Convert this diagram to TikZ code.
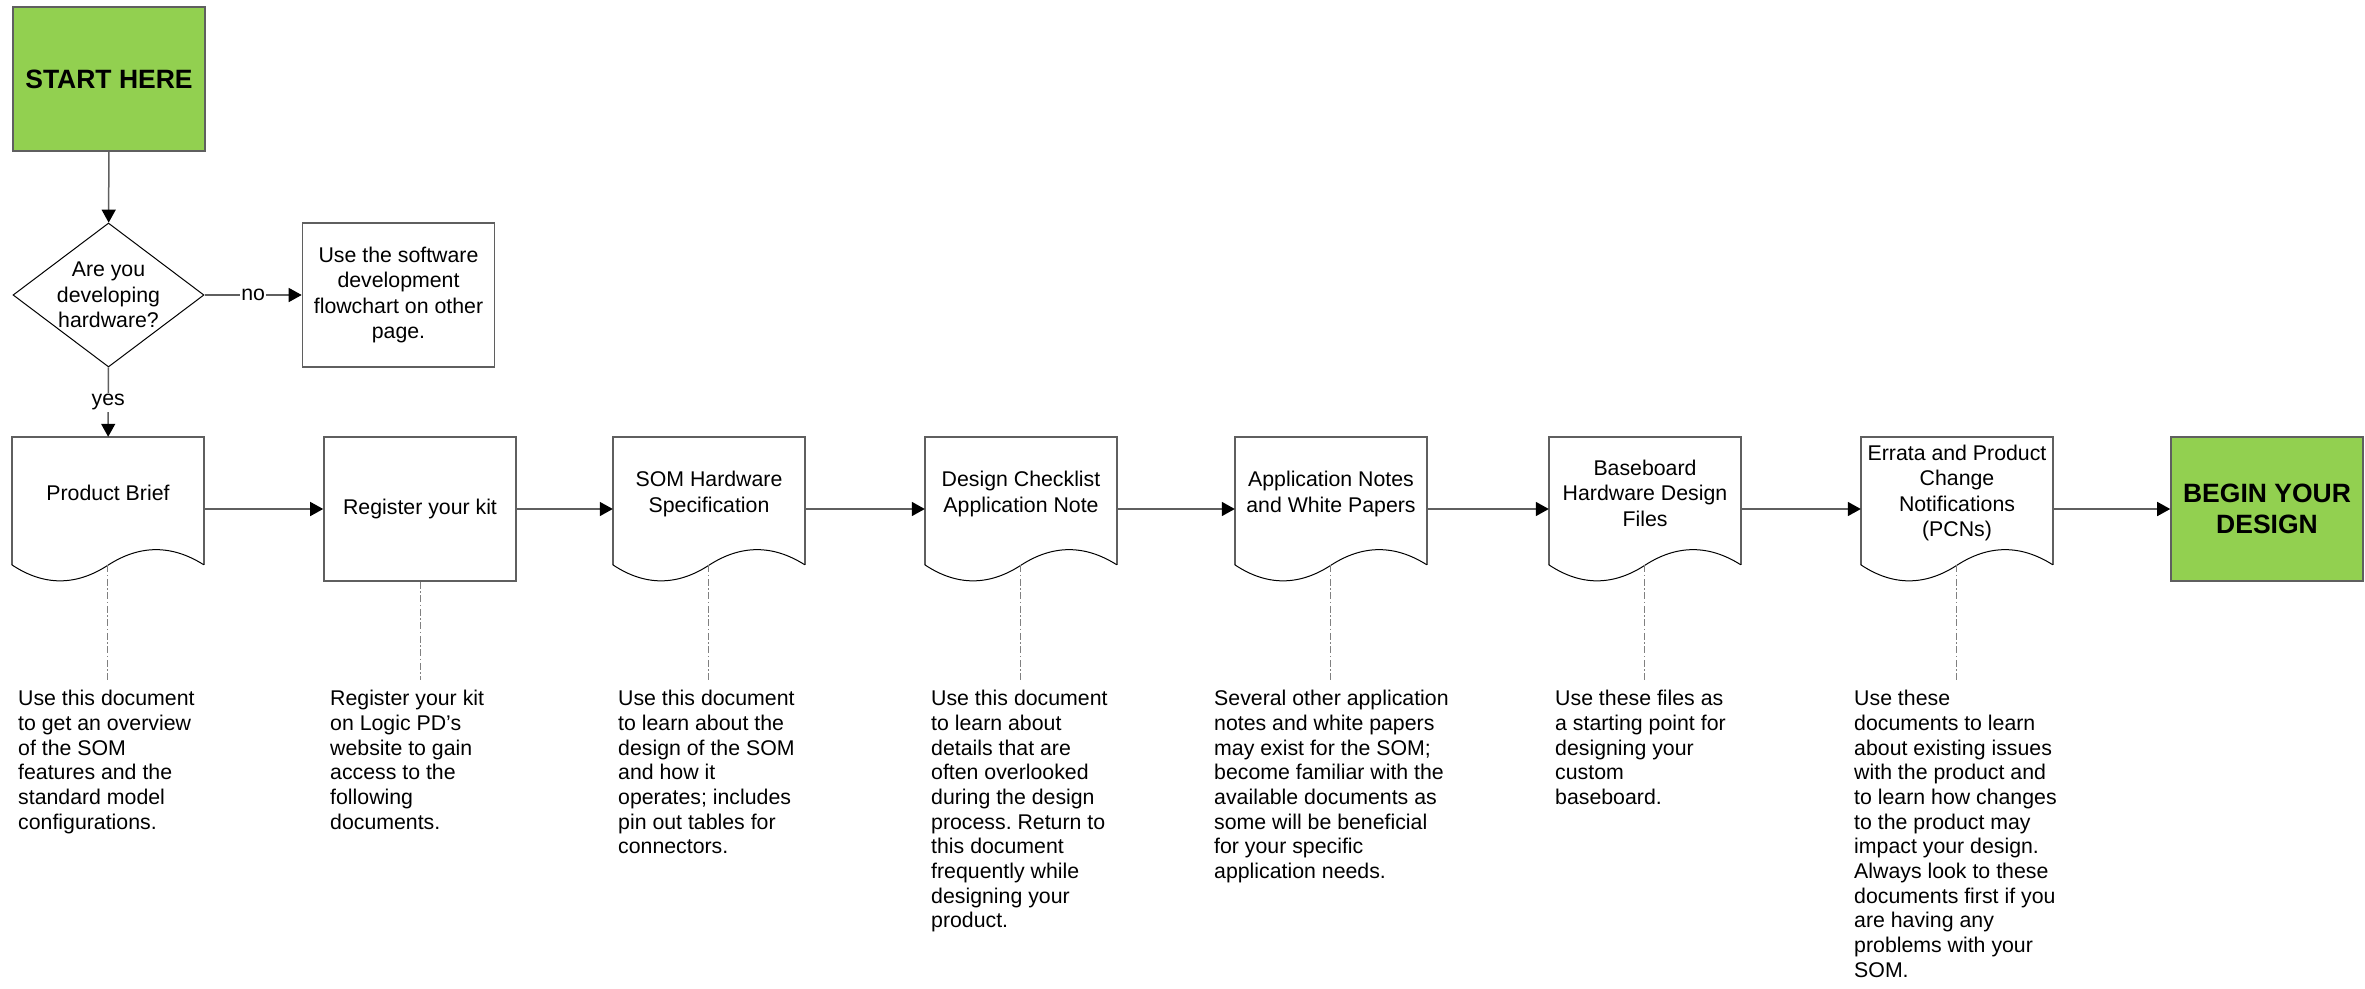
\documentclass[tikz,border=0pt]{standalone}
\usepackage{fontspec}
\setmainfont{Liberation Sans}
\usetikzlibrary{shapes.geometric,arrows.meta,calc}
\definecolor{startgreen}{RGB}{146,208,80}
\definecolor{edgegray}{RGB}{95,95,95}
\newcommand\docoutline[1]{%
  \draw[edgegray,line width=1.6pt] ($(#1.north west)+(0,-128)$) -- (#1.north west) -- (#1.north east) -- ($(#1.north east)+(0,-128)$);
  \draw[black,line width=1pt] ($(#1.north west)+(0,-128)$)
     .. controls ($(#1.north west)+(32,-149.3)$) and ($(#1.north west)+(64,-149.3)$) .. ($(#1.north west)+(96,-128.5)$) coordinate (#1w)
     .. controls ($(#1.north west)+(128,-107.7)$) and ($(#1.north west)+(160,-107.7)$) .. ($(#1.north west)+(192,-128)$);
}
\begin{document}
\frenchspacing
\begin{tikzpicture}[x=1pt,y=1pt,
  every node/.style={font=\fontsize{21.3}{24.7}\selectfont, inner sep=0pt},
  boxtext/.style={align=center, font=\fontsize{21.3}{25.4}\selectfont},
  box/.style={draw=edgegray, line width=1.6pt, minimum width=192pt, minimum height=144pt, boxtext},
  greenbox/.style={box, fill=startgreen, font=\bfseries\fontsize{26.5}{31}\selectfont},
  docarea/.style={minimum width=192pt, minimum height=144pt},
  flow/.style={draw=edgegray, line width=1.5pt, -{Triangle[length=13pt,width=14pt,color=black]}},
  note/.style={align=left, anchor=north west},
  dotline/.style={draw=gray, line width=1pt, dash pattern=on 7pt off 2.5pt on 1.5pt off 2.5pt, shorten >=10pt},
  lbl/.style={fill=white, inner sep=1.5pt}
]
\useasboundingbox (0,0) rectangle (2365,-988);

% top part
\node[greenbox] (start) at (109,-79) {START HERE};
\node[draw=black, line width=1pt, shape=diamond, minimum width=191pt, minimum height=144pt, aspect=1.33] (q) at (108.5,-295) {};
\node[boxtext] (qt) at (q) {Are you\\developing\\hardware?};
\node[box] (sw) at (398.5,-295) {Use the software\\development\\flowchart on other\\page.};

% main row
\node[docarea] (pb) at (108,-509) {};
\node[box] (reg) at (420,-509) {Register your kit};
\node[docarea] (som) at (709,-509) {};
\node[docarea] (dc) at (1021,-509) {};
\node[docarea] (an) at (1331,-509) {};
\node[docarea] (bb) at (1645,-509) {};
\node[docarea] (er) at (1957,-509) {};
\node[greenbox] (begin) at (2267,-509) {BEGIN YOUR\\DESIGN};

\docoutline{pb}
\docoutline{som}
\docoutline{dc}
\docoutline{an}
\docoutline{bb}
\docoutline{er}

\node[boxtext] (pbt) at (108,-493) {Product Brief};
\node[boxtext] (somt) at (709,-494) {SOM Hardware\\Specification};
\node[boxtext] (dct) at (1021,-494) {Design Checklist\\Application Note};
\node[boxtext] (ant) at (1331,-494) {Application Notes\\and White Papers};
\node[boxtext] (bbt) at (1645,-493) {Baseboard\\Hardware Design\\Files};
\node[boxtext] (ert) at (1957,-493) {Errata and Product\\Change\\Notifications\\(PCNs)};

% connectors
\draw[flow] (start) -- (q);
\draw[flow] (q) -- node[lbl] (no) {no} (sw);
\draw[flow] (q) -- node[lbl] (yes) {yes} (pb);
\draw[flow] (pb) -- (reg);
\draw[flow] (reg) -- (som);
\draw[flow] (som) -- (dc);
\draw[flow] (dc) -- (an);
\draw[flow] (an) -- (bb);
\draw[flow] (bb) -- (er);
\draw[flow] (er) -- (begin);

% annotations
\node[note] (pbn) at (18,-690) {Use this document\\to get an overview\\of the SOM\\features and the\\standard model\\configurations.};
\node[note] (regn) at (330,-690) {Register your kit\\on Logic PD’s\\website to gain\\access to the\\following\\documents.};
\node[note] (somn) at (618,-690) {Use this document\\to learn about the\\design of the SOM\\and how it\\operates; includes\\pin out tables for\\connectors.};
\node[note] (dcn) at (931,-690) {Use this document\\to learn about\\details that are\\often overlooked\\during the design\\process. Return to\\this document\\frequently while\\designing your\\product.};
\node[note] (ann) at (1214,-690) {Several other application\\notes and white papers\\may exist for the SOM;\\become familiar with the\\available documents as\\some will be beneficial\\for your specific\\application needs.};
\node[note] (bbn) at (1555,-690) {Use these files as\\a starting point for\\designing your\\custom\\baseboard.};
\node[note] (ern) at (1854,-690) {Use these\\documents to learn\\about existing issues\\with the product and\\to learn how changes\\to the product may\\impact your design.\\Always look to these\\documents first if you\\are having any\\problems with your\\SOM.};

\draw[dotline] (pbw) -- (pbw |- pbn.north);
\draw[dotline] (reg.south) -- (reg.south |- regn.north);
\draw[dotline] (somw) -- (somw |- somn.north);
\draw[dotline] (dcw) -- (dcw |- dcn.north);
\draw[dotline] (anw) -- (anw |- ann.north);
\draw[dotline] (bbw) -- (bbw |- bbn.north);
\draw[dotline] (erw) -- (erw |- ern.north);
\end{tikzpicture}
\end{document}
